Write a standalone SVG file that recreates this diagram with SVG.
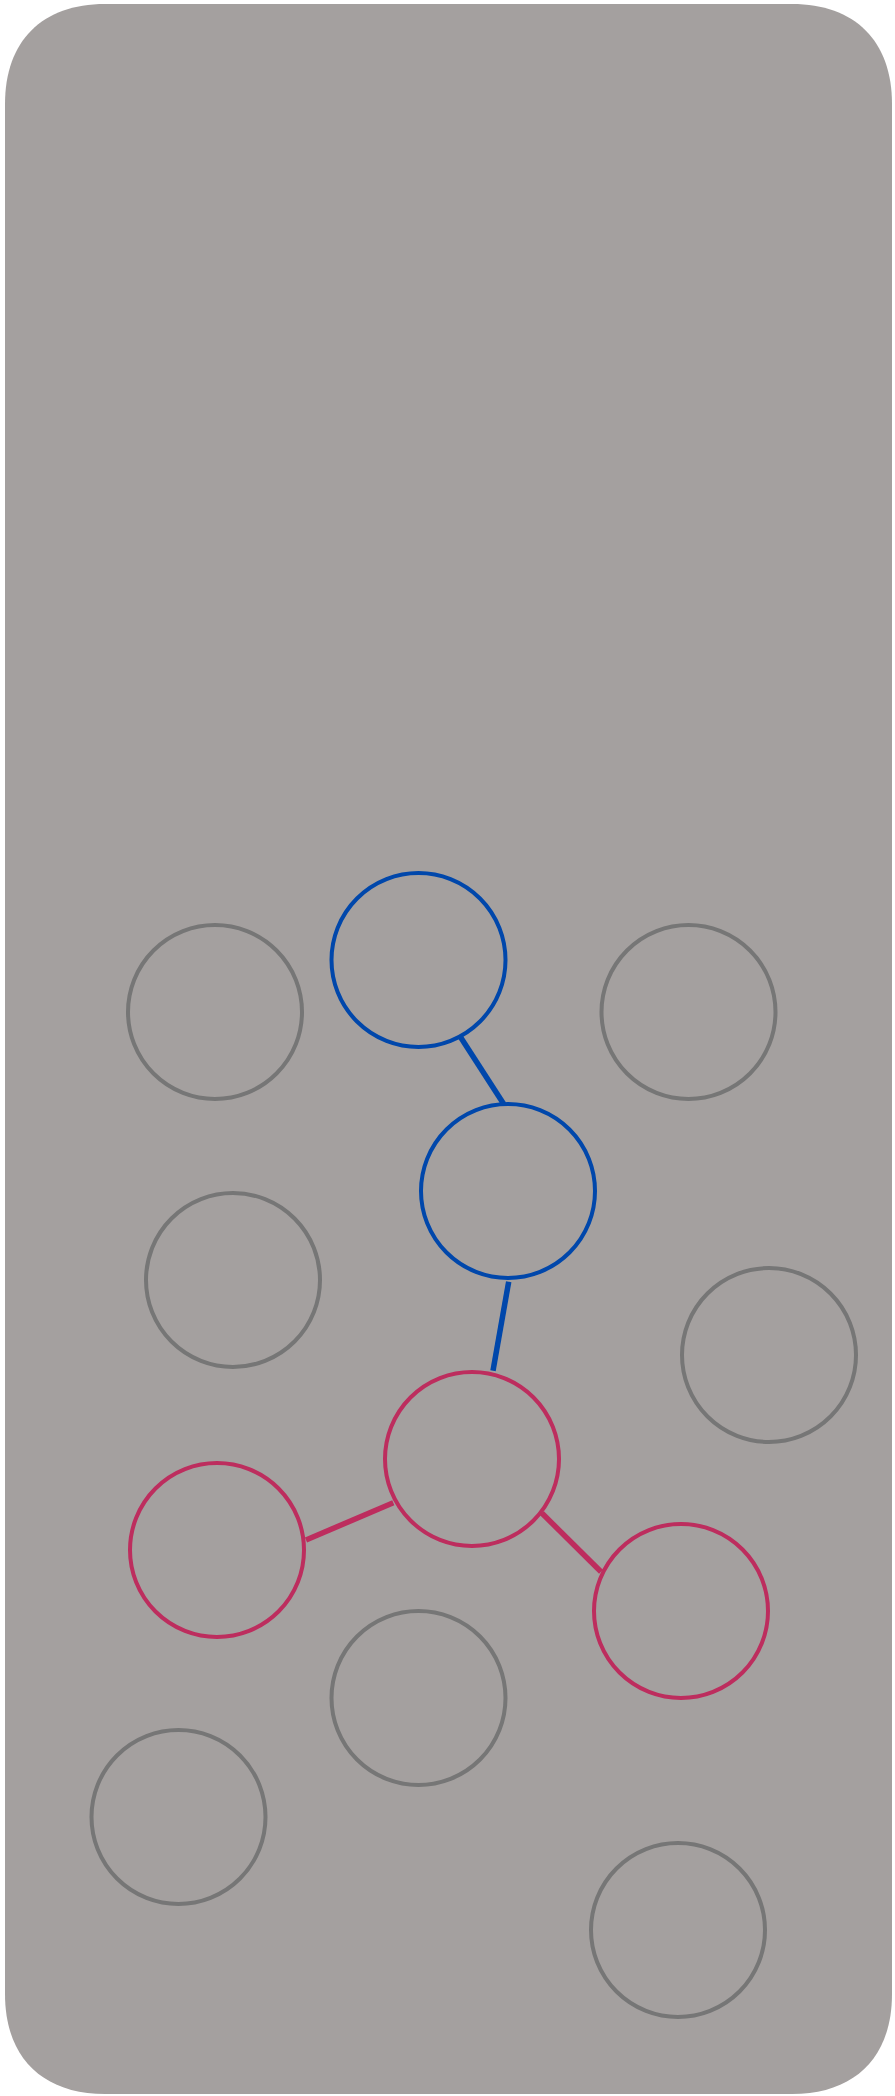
<svg xmlns="http://www.w3.org/2000/svg" width="895" height="2096" viewBox="0 0 895 2096">
<style>
.node{fill:none;stroke-width:4}
.gray{stroke:#767676}
.blue{stroke:#0047ab}
.pink{stroke:#bd2d5e}
.edge{fill:none;stroke-width:5.5}
</style>
<rect x="0" y="0" width="895" height="2096" fill="#ffffff"/>
<path id="panel" d="M105,4 H792 C855,4 892,41 892,104 V1994 C892,2057 855,2094 792,2094 H105 C42,2094 5,2057 5,1994 V104 C5,41 42,4 105,4 Z" fill="#a4a09f"/>
<g id="connectors">
<line class="edge" stroke="#0047ab" x1="460.3" y1="1036.7" x2="503.7" y2="1104"/>
<line class="edge" stroke="#0047ab" x1="508.7" y1="1281.7" x2="493" y2="1370.7"/>
<line class="edge" stroke="#bd2d5e" x1="306" y1="1540" x2="393.3" y2="1502.7"/>
<line class="edge" stroke="#bd2d5e" x1="542" y1="1513.3" x2="601" y2="1571.7"/>
</g>
<g id="n1"><circle class="node gray" cx="215" cy="1012" r="87"/></g>
<g id="n2"><circle class="node blue" cx="418.5" cy="960" r="87"/></g>
<g id="n3"><circle class="node gray" cx="688.5" cy="1012" r="87"/></g>
<g id="n4"><circle class="node blue" cx="508" cy="1191" r="87"/></g>
<g id="n5"><circle class="node gray" cx="233" cy="1280" r="87"/></g>
<g id="n6"><circle class="node gray" cx="769" cy="1355" r="87"/></g>
<g id="n7"><circle class="node pink" cx="472" cy="1459" r="87"/></g>
<g id="n8"><circle class="node pink" cx="217" cy="1550" r="87"/></g>
<g id="n9"><circle class="node pink" cx="681" cy="1611" r="87"/></g>
<g id="n10"><circle class="node gray" cx="418.5" cy="1698" r="87"/></g>
<g id="n11"><circle class="node gray" cx="178.5" cy="1817" r="87"/></g>
<g id="n12"><circle class="node gray" cx="678" cy="1930" r="87"/></g>
</svg>
